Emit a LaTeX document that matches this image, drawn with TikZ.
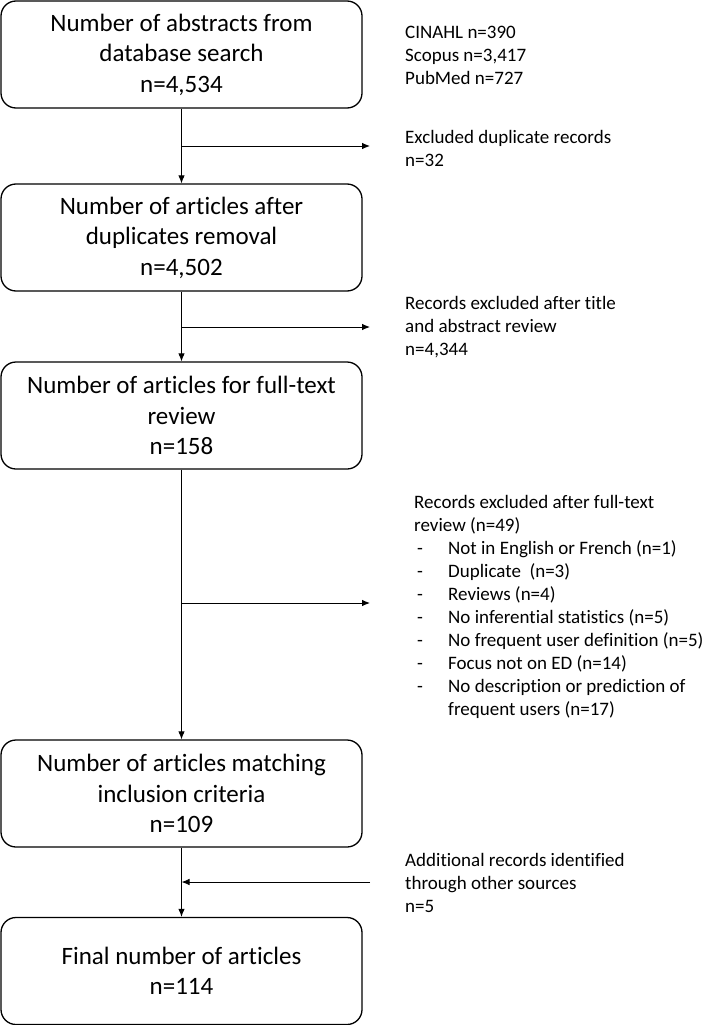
\documentclass[tikz,border=0pt]{standalone}
\usepackage{fontspec}
\setmainfont{Carlito}[Ligatures={NoCommon}]
\usetikzlibrary{arrows.meta}
\begin{document}
\begin{tikzpicture}[x=1pt,y=-1pt,
  box/.style={draw, line width=1.3pt, rounded corners=15pt, minimum width=361pt,
    minimum height=107pt, align=center, inner sep=0pt,
    font=\fontsize{25}{30.5}\selectfont},
  side/.style={anchor=west, align=left, inner sep=0pt,
    font=\fontsize{19}{23}\selectfont},
  conn/.style={line width=0.9pt, -{Latex[length=8pt,width=6.5pt]}}]
\useasboundingbox (0,0) rectangle (707,1025);
\newcommand{\itm}{\makebox[34pt][l]{\hspace*{3pt}-}}
% boxes
\node[box] (b1) at (181.5,54.5) {Number of abstracts from\\database search\\n=4,534};
\node[box] (b2) at (181.5,237.5) {Number of articles after\\duplicates removal\\n=4,502};
\node[box] (b3) at (181.5,415.5) {Number of articles for full-text\\review\\n=158};
\node[box] (b4) at (181.5,793.5) {Number of articles matching\\inclusion criteria\\n=109};
\node[box] (b5) at (181.5,971) {Final number of articles\\n=114};
% side texts
\node[side] (t0) at (405,55) {CINAHL n=390\\Scopus n=3,417\\PubMed n=727};
\node[side] (t1) at (405,148) {Excluded duplicate records\\n=32};
\node[side] (t2) at (405,327) {Records excluded after title\\and abstract review\\n=4,344};
\node[side] (t3) at (414,607) {Records excluded after full-text\\review (n=49)\\
\itm Not in English or French (n=1)\\
\itm Duplicate\ \ (n=3)\\
\itm Reviews (n=4)\\
\itm No inferential statistics (n=5)\\
\itm No frequent user definition (n=5)\\
\itm Focus not on ED (n=14)\\
\itm No description or prediction of\\
\hspace*{34pt}frequent users (n=17)};
\node[side] (t4) at (405,883) {Additional records identified\\through other sources\\n=5};
% junctions
\coordinate (j1) at (181.5,146);
\coordinate (e1) at (370,146);
\coordinate (j2) at (181.5,327);
\coordinate (e2) at (370,327);
\coordinate (j3) at (181.5,603);
\coordinate (e3) at (370,603);
\coordinate (j4) at (181.5,882);
\coordinate (e4) at (370,882);
% connectors
\draw[conn] (b1.south) -- (b2.north);
\draw[conn] (b2.south) -- (b3.north);
\draw[conn] (b3.south) -- (b4.north);
\draw[conn] (b4.south) -- (b5.north);
\draw[conn] (j1) -- (e1);
\draw[conn] (j2) -- (e2);
\draw[conn] (j3) -- (e3);
\draw[conn] (e4) -- (j4);
\end{tikzpicture}
\end{document}
